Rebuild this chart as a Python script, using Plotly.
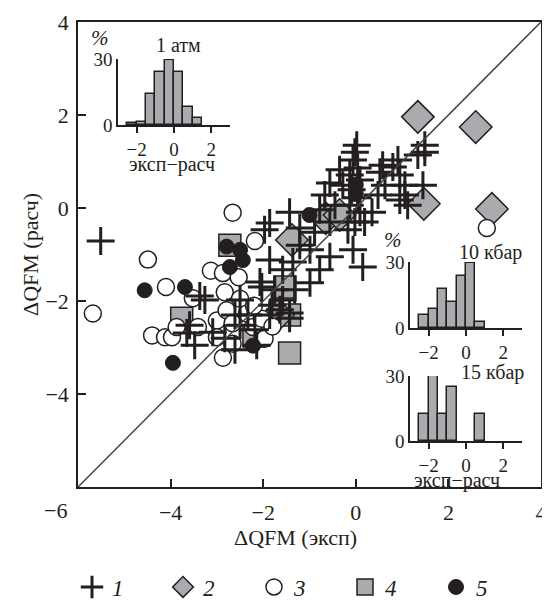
import plotly.graph_objects as go

# ---------------- data ----------------
# series 1 (+)
s1_x = [1.49, 1.49, 1.34, 0.91, 0.80, 0.95, 0.58, 0.52, 0.63, 1.06, 1.45, 0.95, 1.12, 0.48, 0.35, 0.19,
        0.02, -0.02, -0.06, 0.04, -0.13, 0.09, -0.09, 0.04, -0.13, 0.09, -0.02, -0.17, -0.06, 0.15,
        -0.35, -0.28, -0.56, -0.67, -0.45, -0.78, -0.56, -0.89, -1.21, -1.43, -1.86, -1.97, -1.21, -0.99,
        -0.56, -0.78, -1.58, -1.36, -2.07, -1.75, -1.58, -1.32, -1.64, -1.86, -1.43, -2.18, -2.50, -2.83,
        -3.09, -3.37, -3.26, -3.59, -3.65, -3.48, -2.61, -2.33, -2.14, -2.61, -5.51, -2.50, -0.99, 1.06,
        -1.86, -1.81, -1.43, -2.03]
s1_y = [1.35, 1.20, 1.14, 1.03, 0.88, 0.71, 0.92, 0.77, 0.49, 0.49, 0.49, 0.17, 0.06, 0.28, -0.09, -0.30,
        1.35, 1.20, 1.03, 0.86, 0.71, 0.60, 0.39, 0.22, 0.06, -0.09, -0.30, -0.47, -0.90, -1.27,
        0.82, 0.49, 0.54, 0.28, 0.06, -0.04, -0.30, -0.52, -0.43, -0.09, -0.32, -0.47, -0.80, -0.90,
        -1.05, -1.33, -1.33, -1.16, -1.59, -1.76, -1.98, -1.76, -2.19, -2.30, -2.37, -2.62, -2.52, -2.80,
        -2.67, -1.89, -1.98, -2.52, -2.69, -2.95, -2.30, -2.30, -2.95, -3.05, -0.71, -1.98, -1.61, 0.28,
        -1.12, -2.09, -2.26, -1.70]
# series 2 (diamonds)
s2_x = [1.34, 2.59, 1.47, 2.94, -1.38, -0.65, -0.35, -1.68]
s2_y = [1.96, 1.74, 0.09, -0.02, -0.69, -0.22, -0.15, -2.30]
# series 3 (open circles)
s3_x = [-5.68, -4.49, -4.10, -2.66, -2.18, -3.13, -2.87, -2.83, -2.50, -3.52, -4.40, -4.12, -3.97,
        -3.87, -3.41, -3.00, -2.79, -2.66, -2.35, -2.22, -2.87, -2.66, -3.00, 2.83, -2.03, -2.53,
        -1.97, -2.20, -1.80]
s3_y = [-2.27, -1.11, -1.70, -0.10, -0.71, -1.35, -1.40, -1.81, -1.95, -1.94, -2.74, -2.78, -2.78,
        -2.56, -2.56, -2.42, -2.20, -2.48, -2.27, -2.56, -3.22, -2.92, -2.78, -0.43, -2.38, -1.49,
        -2.81, -2.10, -2.55]
# series 4 (squares)
s4_x = [-2.72, -3.76, -1.43, -1.43, -1.53, -2.20]
s4_y = [-0.80, -2.37, -3.12, -2.30, -1.70, -2.75]
# series 5 (filled circles)
s5_x = [-4.56, -3.69, -3.95, -2.79, -2.50, -2.44, -2.72, -2.22, -1.00, 0.00, 0.00]
s5_y = [-1.77, -1.70, -3.33, -0.83, -0.90, -1.12, -1.27, -2.96, -0.15, 0.50, 0.30]

diag = [-6, 4]

# histograms (bin centres, %)
h1_x = [-2.25, -1.75, -1.25, -0.75, -0.25, 0.25, 0.75, 1.25]
h1_y = [1.0, 1.5, 14.0, 24.0, 29.5, 24.0, 8.0, 3.0]
h2_x = [-2.25, -1.75, -1.25, -0.75, -0.25, 0.25, 0.75]
h2_y = [5.9, 8.8, 17.6, 11.8, 23.5, 29.4, 2.9]
h3_x = [-2.25, -1.75, -1.25, -0.75, 0.75]
h3_y = [12.5, 37.5, 12.5, 25.0, 12.5]

main_ticks = [-4, -2, 0, 2, 4]
main_ticktext = ['−4', '−2', '0', '2', '4']
h_ticks = [-2, 0, 2]
h_ticktext = ['−2', '0', '2']

# ---------------- style ----------------
GREY = '#a9abae'
INK = '#231f20'
SERIF = 'Liberation Serif, Times New Roman, serif'

fig = go.Figure()

fig.add_trace(go.Scatter(x=s4_x, y=s4_y, mode='markers', name='4', legendrank=4,
                         marker=dict(symbol='square', size=22, color=GREY, line=dict(color=INK, width=1.5))))
fig.add_trace(go.Scatter(x=s2_x, y=s2_y, mode='markers', name='2', legendrank=2,
                         marker=dict(symbol='diamond', size=25, color=GREY, line=dict(color=INK, width=1.5))))
fig.add_trace(go.Scatter(x=s3_x, y=s3_y, mode='markers', name='3', legendrank=3,
                         marker=dict(symbol='circle', size=17, color='white', line=dict(color=INK, width=1.5))))
fig.add_trace(go.Scatter(x=s5_x, y=s5_y, mode='markers', name='5', legendrank=5,
                         marker=dict(symbol='circle', size=15, color=INK, line=dict(color=INK, width=1))))
fig.add_trace(go.Scatter(x=s1_x, y=s1_y, mode='markers', name='1', legendrank=1,
                         marker=dict(symbol='cross-thin', size=20, color=INK, line=dict(color=INK, width=3))))
fig.add_trace(go.Scatter(x=diag, y=diag, mode='lines', showlegend=False,
                         line=dict(color='#444444', width=1.5)))

for hx, hy, xa, ya in [(h1_x, h1_y, 'x2', 'y2'), (h2_x, h2_y, 'x3', 'y3'), (h3_x, h3_y, 'x4', 'y4')]:
    fig.add_trace(go.Bar(x=hx, y=hy, width=0.5, xaxis=xa, yaxis=ya, showlegend=False,
                         marker=dict(color=GREY, line=dict(color=INK, width=1.5))))

# the page body has an 8px margin, so work in window pixels and subtract it
OFF = 8
W, H = 550 - OFF, 600 - OFF
L, R, T, B = 78 - OFF, 541 - OFF, 22 - OFF, 487 - OFF
pw, ph = R - L, B - T

def px(x):
    return (x - OFF - L) / pw

def py(y):
    return (B - (y - OFF)) / ph

axis_common = dict(showgrid=False, zeroline=False, showline=True, linecolor=INK, linewidth=1.5,
                   mirror=True, ticks='inside', ticklen=8, tickwidth=1.5, tickcolor=INK,
                   tickfont=dict(family=SERIF, size=22, color=INK), tickvals=main_ticks,
                   ticktext=main_ticktext, automargin=False)

fig.update_layout(
    width=W, height=H,
    margin=dict(l=L, r=W - R, t=T, b=H - B, autoexpand=False),
    paper_bgcolor='white', plot_bgcolor='white',
    xaxis=dict(range=[-6, 4], ticklabelstandoff=5, **axis_common),
    yaxis=dict(range=[-6, 4], ticklabelstandoff=3, **axis_common),
    showlegend=True,
    legend=dict(orientation='h', x=px(72), y=py(587), xanchor='left', yanchor='middle',
                traceorder='normal', entrywidth=46, entrywidthmode='pixels',
                font=dict(family=SERIF, size=23, color=INK, style='italic'),
                bgcolor='rgba(0,0,0,0)'),
    bargap=0,
)

inset_common = dict(showgrid=False, zeroline=False, showline=True, linecolor=INK, linewidth=1.5,
                    tickcolor=INK, tickwidth=1.5, tickfont=dict(family=SERIF, size=19, color=INK),
                    automargin=False)

insets = [
    ('xaxis2', 'yaxis2', 'x2', 'y2', (118, 230), (125, 59)),
    ('xaxis3', 'yaxis3', 'x3', 'y3', (410, 522), (328, 262)),
    ('xaxis4', 'yaxis4', 'x4', 'y4', (410, 522), (441, 376)),
]
for xn, yn, xa, ya, (x0, x1), (y0, y1) in insets:
    fig.update_layout(**{
        xn: dict(domain=[px(x0), px(x1)], anchor=ya, range=[-3, 3], ticks='outside', ticklen=6,
                 ticklabelstandoff=0, tickvals=h_ticks, ticktext=h_ticktext, **inset_common),
        yn: dict(domain=[py(y0), py(y1)], anchor=xa, range=[0, 30], ticks='inside', ticklen=6,
                 tickvals=[0, 30], ticktext=['0', '30'], **inset_common),
    })

ann_font = dict(family=SERIF, size=20, color=INK)
pct_font = dict(family=SERIF, size=21, color=INK, style='italic')
big_font = dict(family=SERIF, size=22, color=INK)
annots = [
    ('%', 100, 38, pct_font),
    ('1 атм', 178, 45, ann_font),
    ('эксп−расч', 172, 164, ann_font),
    ('%', 393, 240, pct_font),
    ('10 кбар', 490, 252, ann_font),
    ('15 кбар', 492, 372, ann_font),
    ('эксп−расч', 457, 480, ann_font),
    ('−6', 55, 511, big_font),
    ('ΔQFM (эксп)', 295, 537, big_font),
]
for text, ax_, ay_, f in annots:
    fig.add_annotation(text=text, x=px(ax_), y=py(ay_), xref='paper', yref='paper',
                       showarrow=False, font=f, xanchor='center', yanchor='middle')
fig.add_annotation(text='ΔQFM (расч)', x=px(30), y=py(255), xref='paper', yref='paper',
                   showarrow=False, font=big_font, textangle=-90, xanchor='center', yanchor='middle')

fig.write_html('out.html')
